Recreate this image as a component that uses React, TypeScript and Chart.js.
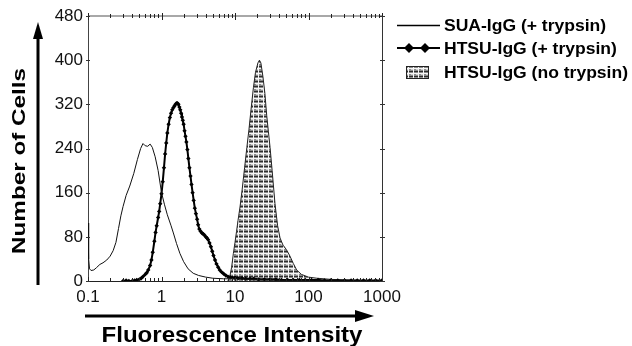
import React, { useEffect, useRef } from "react";
import { Chart, registerables } from "chart.js";
Chart.register(...registerables);

const xTickLabels = [0.1, 1, 10, 100, 1000];
const yTickStep = 80;
const yMax = 480;

const suaX = [0.1, 0.102, 0.105, 0.11, 0.12, 0.13, 0.145, 0.16, 0.18, 0.2, 0.22, 0.24, 0.26, 0.28, 0.3, 0.33, 0.37, 0.42, 0.47, 0.52, 0.56, 0.6, 0.65, 0.7, 0.75, 0.82, 0.9, 1.0, 1.1, 1.2, 1.35, 1.45, 1.6, 1.78, 2.0, 2.3, 2.7, 3.2, 4, 5, 7, 10, 15, 25, 40, 70, 120, 1000];
const suaY = [105, 40, 22, 19, 20, 24, 30, 33, 38, 45, 55, 70, 95, 118, 135, 155, 172, 195, 220, 240, 249, 245, 244, 248, 242, 225, 200, 160, 138, 120, 100, 87, 68, 50, 35, 22, 14, 10, 7, 5, 4, 4, 3, 2, 1, 1, 0, 0];

const htsuX = [0.3, 0.33, 0.36, 0.4, 0.43, 0.46, 0.5, 0.53, 0.56, 0.6, 0.63, 0.66, 0.7, 0.73, 0.76, 0.8, 0.83, 0.86, 0.9, 0.93, 0.96, 1.0, 1.04, 1.08, 1.12, 1.16, 1.2, 1.25, 1.3, 1.35, 1.4, 1.45, 1.5, 1.55, 1.6, 1.65, 1.7, 1.75, 1.8, 1.85, 1.9, 1.95, 2.0, 2.06, 2.12, 2.18, 2.25, 2.32, 2.4, 2.48, 2.56, 2.65, 2.74, 2.84, 2.94, 3.05, 3.15, 3.27, 3.4, 3.55, 3.7, 3.85, 4.0, 4.15, 4.3, 4.5, 4.7, 4.9, 5.1, 5.35, 5.6, 5.9, 6.2, 6.6, 7.0, 7.5, 8.0, 8.6, 9.3, 10, 11, 12.5, 14, 16, 18, 21, 25, 30, 36, 43, 52, 62, 75, 90, 110, 135, 165, 200, 250, 310, 380, 460, 560, 680, 820, 1000];
const htsuY = [0, 1, 0, 0, 1, 2, 3, 5, 8, 12, 15, 20, 28, 38, 52, 72, 88, 100, 115, 126, 140, 158, 180, 205, 230, 250, 268, 284, 296, 304, 310, 314, 317, 320, 322, 322, 320, 315, 310, 304, 297, 291, 284, 272, 262, 252, 238, 222, 205, 190, 175, 160, 146, 132, 122, 112, 102, 94, 90, 87, 85, 83, 80, 78, 75, 69, 62, 54, 46, 38, 31, 25, 20, 16, 13, 10, 8, 7, 6, 6, 5, 5, 4, 4, 4, 3, 3, 3, 3, 2, 2, 2, 2, 2, 2, 2, 1, 1, 1, 1, 1, 1, 1, 1, 1, 1];

const noTrypX = [8, 8.5, 9, 9.5, 10, 10.5, 11, 11.7, 12.5, 13.5, 14.5, 15.5, 16.5, 17.8, 19, 20.5, 21.5, 22.5, 24, 25.5, 27, 28.5, 30, 32, 35, 38, 41, 45, 50, 56, 62, 69, 80, 100, 130, 200, 300, 500, 1000];
const noTrypY = [0, 8, 25, 50, 70, 90, 110, 134, 165, 205, 242, 275, 310, 350, 378, 395, 400, 395, 370, 340, 300, 270, 242, 200, 140, 100, 78, 65, 57, 45, 32, 20, 12, 7, 5, 3, 2, 1, 0];

const legendLabels = ["SUA-IgG (+ trypsin)", "HTSU-IgG (+ trypsin)", "HTSU-IgG (no trypsin)"];
const xTitle = "Fluorescence Intensity";
const yTitle = "Number of Cells";

const FONT = '"Liberation Sans", Arial, Helvetica, sans-serif';

function makePattern(): CanvasPattern | string {
  const c = document.createElement("canvas");
  c.width = 5;
  c.height = 5;
  const g = c.getContext("2d");
  if (!g) return "#999";
  g.fillStyle = "#8a8a8a";
  g.fillRect(0, 0, 5, 5);
  g.fillStyle = "#2e2e2e";
  g.fillRect(0, 1, 5, 1);
  g.fillStyle = "#f6f6f6";
  g.fillRect(3, 0, 1, 5);
  g.fillRect(0, 3, 5, 1);
  g.fillStyle = "#d0d0d0";
  g.fillRect(1, 4, 2, 1);
  const p = g.createPattern(c, "repeat");
  return p || "#999";
}

function fitText(ctx: CanvasRenderingContext2D, text: string, x: number, y: number, font: string, width: number, align: CanvasTextAlign) {
  ctx.save();
  ctx.font = font;
  const w = ctx.measureText(text).width;
  const s = width / w;
  ctx.translate(x, y);
  ctx.scale(s, 1);
  ctx.textAlign = align;
  ctx.textBaseline = "alphabetic";
  ctx.fillText(text, 0, 0);
  ctx.restore();
}

export default function App() {
  const ref = useRef<HTMLCanvasElement | null>(null);
  useEffect(() => {
    document.body.style.margin = "0";
    const canvas = ref.current;
    if (!canvas) return;
    const pattern = makePattern();

    const decorations = {
      id: "decorations",
      afterDraw(chart: any) {
        const ctx: CanvasRenderingContext2D = chart.ctx;
        const xs = chart.scales.x;
        const ys = chart.scales.y;
        const { left, right, top, bottom } = chart.chartArea;
        ctx.save();
        // top axis (gray) with log ticks
        ctx.strokeStyle = "#a8a8a8";
        ctx.lineWidth = 2;
        ctx.beginPath();
        ctx.moveTo(left, top);
        ctx.lineTo(right, top);
        ctx.stroke();
        ctx.strokeStyle = "#222";
        ctx.lineWidth = 1;
        for (let d = 0; d < xTickLabels.length; d++) {
          const base = xTickLabels[d];
          for (let m = 1; m <= 9; m++) {
            if (d === xTickLabels.length - 1 && m > 1) break;
            const v = base * m;
            const px = Math.round(xs.getPixelForValue(v)) + 0.5;
            const major = m === 1;
            ctx.beginPath();
            ctx.moveTo(px, top - (major ? 3 : 2));
            ctx.lineTo(px, top + (major ? 4 : 2));
            ctx.stroke();
            ctx.beginPath();
            ctx.moveTo(px, bottom);
            ctx.lineTo(px, bottom - (major ? 4 : 3));
            ctx.stroke();
          }
        }
        // right axis
        ctx.strokeStyle = "#333";
        ctx.beginPath();
        ctx.moveTo(right + 0.5, top);
        ctx.lineTo(right + 0.5, bottom);
        ctx.stroke();
        for (let v = 0; v <= yMax; v += yTickStep) {
          const py = Math.round(ys.getPixelForValue(v)) + 0.5;
          ctx.beginPath();
          ctx.moveTo(right - 2, py);
          ctx.lineTo(right + 3, py);
          ctx.stroke();
          ctx.beginPath();
          ctx.moveTo(left - 2, py);
          ctx.lineTo(left + 2, py);
          ctx.stroke();
        }
        // y arrow
        ctx.fillStyle = "#000";
        ctx.fillRect(36.5, 36, 3, 249);
        ctx.beginPath();
        ctx.moveTo(38, 22);
        ctx.lineTo(43, 39);
        ctx.lineTo(33, 39);
        ctx.closePath();
        ctx.fill();
        // x arrow
        ctx.fillRect(85, 314.5, 272, 3);
        ctx.beginPath();
        ctx.moveTo(374, 316);
        ctx.lineTo(355, 310);
        ctx.lineTo(355, 322);
        ctx.closePath();
        ctx.fill();
        // titles
        fitText(ctx, xTitle, 232, 342, "bold 22px " + FONT, 261, "center");
        ctx.save();
        ctx.translate(25, 161);
        ctx.rotate(-Math.PI / 2);
        fitText(ctx, yTitle, 0, 0, "bold 19px " + FONT, 186, "center");
        ctx.restore();
        // legend
        const lx = 444;
        const rows = [25, 48, 72];
        const lfont = "bold 16px " + FONT;
        ctx.font = lfont;
        const scale = 184 / ctx.measureText(legendLabels[2]).width;
        ctx.fillStyle = "#000";
        for (let i = 0; i < legendLabels.length; i++) {
          ctx.save();
          ctx.translate(lx, rows[i] + 6);
          ctx.scale(scale, 1);
          ctx.textAlign = "left";
          ctx.textBaseline = "alphabetic";
          ctx.fillText(legendLabels[i], 0, 0);
          ctx.restore();
        }
        ctx.strokeStyle = "#000";
        ctx.lineWidth = 1.5;
        ctx.beginPath();
        ctx.moveTo(397, rows[0] + 0.5);
        ctx.lineTo(440, rows[0] + 0.5);
        ctx.stroke();
        ctx.lineWidth = 2;
        ctx.beginPath();
        ctx.moveTo(397, rows[1]);
        ctx.lineTo(440, rows[1]);
        ctx.stroke();
        for (const dx of [409, 425]) {
          ctx.beginPath();
          ctx.moveTo(dx, rows[1] - 5);
          ctx.lineTo(dx + 5, rows[1]);
          ctx.lineTo(dx, rows[1] + 5);
          ctx.lineTo(dx - 5, rows[1]);
          ctx.closePath();
          ctx.fill();
        }
        ctx.fillStyle = pattern as any;
        ctx.fillRect(406, 66, 23, 13);
        ctx.strokeStyle = "#222";
        ctx.lineWidth = 1;
        ctx.strokeRect(406.5, 66.5, 22, 12);
        ctx.restore();
      },
    };

    const chart = new Chart(canvas, {
      type: "line",
      data: {
        datasets: [
          {
            label: legendLabels[0],
            data: suaX.map((x, i) => ({ x, y: suaY[i] })),
            borderColor: "#111",
            borderWidth: 1,
            pointRadius: 0,
            fill: false,
          },
          {
            label: legendLabels[1],
            data: htsuX.map((x, i) => ({ x, y: htsuY[i] })),
            borderColor: "#000",
            borderWidth: 2,
            pointRadius: 2.2,
            pointStyle: "rectRot",
            pointBackgroundColor: "#000",
            pointBorderColor: "#000",
            pointBorderWidth: 0,
            fill: false,
          },
          {
            label: legendLabels[2],
            data: noTrypX.map((x, i) => ({ x, y: noTrypY[i] })),
            borderColor: "#222",
            borderWidth: 1,
            pointRadius: 0,
            backgroundColor: pattern as any,
            fill: "origin",
          },
        ],
      },
      options: {
        responsive: false,
        animation: false,
        layout: { padding: { left: 0, right: 250, top: 16, bottom: 0 } },
        plugins: { legend: { display: false }, tooltip: { enabled: false } },
        scales: {
          x: {
            type: "logarithmic",
            min: 0.1,
            max: 1000,
            grid: { display: false, drawTicks: false },
            border: { display: true, color: "#222", width: 1 },
            afterBuildTicks: (s: any) => {
              s.ticks = xTickLabels.map((v) => ({ value: v }));
            },
            afterFit: (s: any) => {
              s.height = 65;
            },
            ticks: {
              autoSkip: false,
              maxRotation: 0,
              padding: 6,
              color: "#111",
              font: { family: FONT, size: 17 },
              callback: (v: any) => String(v),
            },
          },
          y: {
            type: "linear",
            min: 0,
            max: yMax,
            grid: { display: false, drawTicks: false },
            border: { display: true, color: "#444", width: 1 },
            afterFit: (s: any) => {
              s.width = 88;
            },
            ticks: {
              stepSize: yTickStep,
              padding: 5,
              color: "#111",
              font: { family: FONT, size: 17 },
            },
          },
        },
      },
      plugins: [decorations],
    } as any);
    return () => chart.destroy();
  }, []);
  return (
    <div style={{ position: "absolute", left: 0, top: 0, width: 632, height: 346 }}>
      <canvas ref={ref} width={632} height={346} style={{ display: "block" }} />
    </div>
  );
}
